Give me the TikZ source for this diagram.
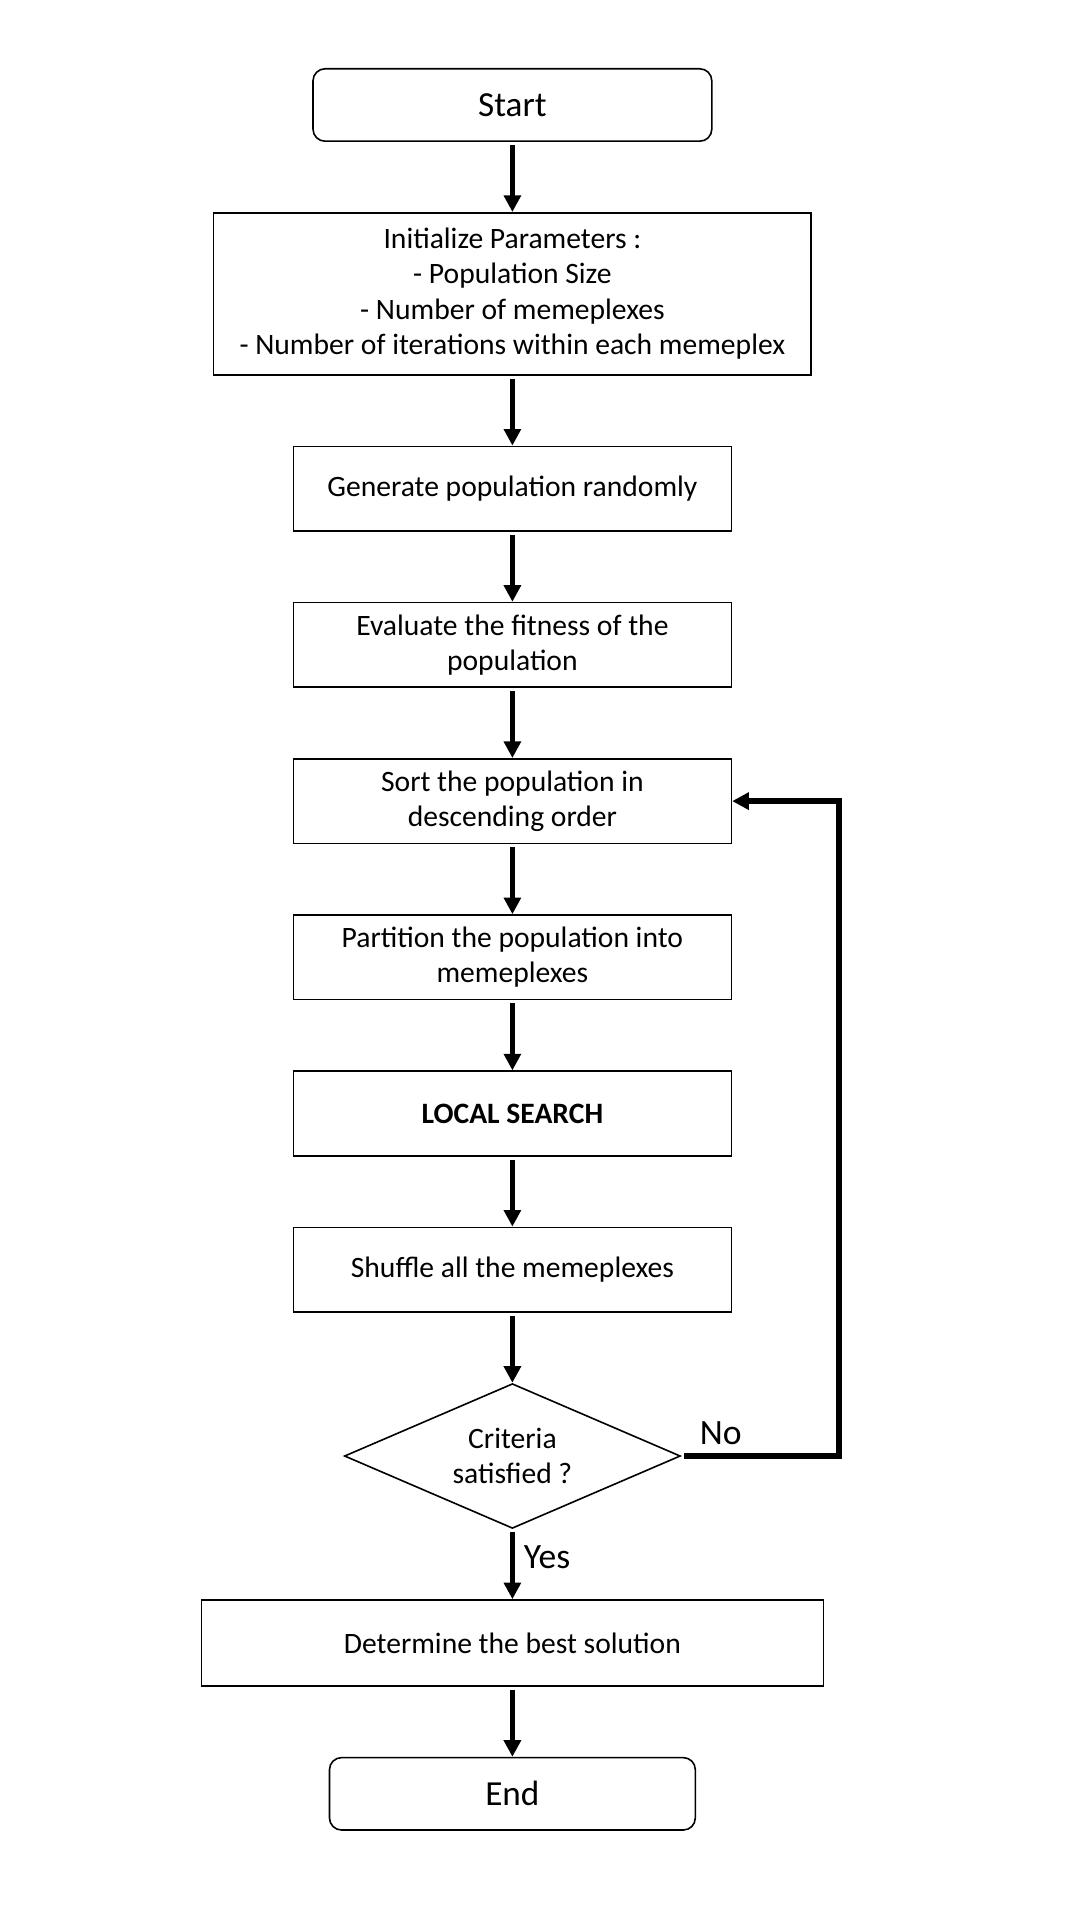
\documentclass[tikz,border=0pt]{standalone}
\usepackage{fontspec}
\setmainfont{Carlito}
\usetikzlibrary{arrows.meta,shapes.geometric,positioning}

\begin{document}
\begin{tikzpicture}[
    > = {Triangle[length=8.3pt,width=8.3pt]}, % arrow head style
    shorten < = 1.5pt, % small gap at the tail
    node distance = 35pt, % distance between nodes
    font = \fontsize{14.8pt}{17.7pt}\selectfont % text style
    ]

    \tikzset{
    box/.style = {draw = black, line width = 0.8pt, minimum width = 219pt, minimum height = 42.3pt, align = center, inner sep = 2pt},
    term/.style = {box, rounded corners = 6pt, minimum height = 36.2pt, font = \fontsize{17.6pt}{20pt}\selectfont},
    cond/.style = {diamond, draw = black, line width = 0.8pt, aspect = 2.3, minimum width = 168pt, minimum height = 72.4pt, align = center, inner sep = 0pt},
    arr/.style = {->, line width = 2.8pt},
    lbl/.style = {font = \fontsize{17.8pt}{20pt}\selectfont}
    }

    \useasboundingbox (0,0) rectangle (540pt,-960pt);

    \node[term, minimum width = 199.4pt] (start) at (256.2pt,-52.5pt) {Start};
    \node[box, minimum width = 298.8pt, minimum height = 81pt] (init) [below=of start] {Initialize Parameters :\\- Population Size\\- Number of memeplexes\\- Number of iterations within each memeplex};
    \node[box] (gen) [below=of init] {Generate population randomly};
    \node[box] (eval) [below=of gen] {Evaluate the fitness of the\\population};
    \node[box] (sort) [below=of eval] {Sort the population in\\descending order};
    \node[box] (part) [below=of sort] {Partition the population into\\memeplexes};
    \node[box] (local) [below=of part] {\textbf{LOCAL SEARCH}};
    \node[box] (shuf) [below=of local] {Shuffle all the memeplexes};
    \node[cond] (cr) [below=of shuf] {Criteria\\satisfied ?};
    \node[box, minimum width = 311.1pt, minimum height = 43pt] (best) [below=of cr] {Determine the best solution};
    \node[term, minimum width = 182.9pt] (end) [below=of best] {End};

    \path[arr] (start) edge (init);
    \path[arr] (init) edge (gen);
    \path[arr] (gen) edge (eval);
    \path[arr] (eval) edge (sort);
    \path[arr] (sort) edge (part);
    \path[arr] (part) edge (local);
    \path[arr] (local) edge (shuf);
    \path[arr] (shuf) edge (cr);
    \path[arr] (cr) edge node[lbl, right = 1pt, pos = 0.4]{Yes} (best);
    \path[arr] (best) edge (end);
    \draw[arr] (cr.east) -- node[lbl, above = 1pt, pos = 0.25]{No} ++(79pt,0) |- (sort.east);
\end{tikzpicture}
\end{document}
